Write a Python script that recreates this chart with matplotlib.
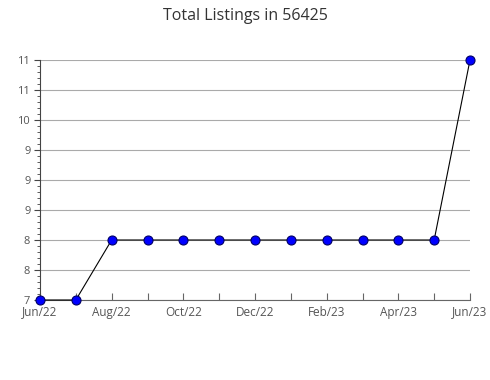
import matplotlib
matplotlib.use("Agg")
import matplotlib.pyplot as plt
from matplotlib.ticker import FixedLocator, FixedFormatter, MultipleLocator

plt.rcParams['font.family'] = ['Open Sans', 'DejaVu Sans']

months = ["Jun/22", "Jul/22", "Aug/22", "Sep/22", "Oct/22", "Nov/22", "Dec/22",
          "Jan/23", "Feb/23", "Mar/23", "Apr/23", "May/23", "Jun/23"]
listings = [7, 7, 8, 8, 8, 8, 8, 8, 8, 8, 8, 8, 11]
y_ticks = [7, 7.5, 8, 8.5, 9, 9.5, 10, 10.5, 11]
y_labels = ["7", "8", "8", "9", "9", "9", "10", "11", "11"]
title = "Total Listings in 56425"

fig = plt.figure(figsize=(4.9, 3.8), dpi=100)
ax = fig.add_axes([40/490, 1-300/380, 430/490, 240/380])

x = list(range(len(months)))
ax.plot(x, listings, color='black', lw=0.8, zorder=3, clip_on=False)
ax.plot(x, listings, 'o', ms=6.5, mfc='#0000ff', mec='#000066', mew=0.8, zorder=4, clip_on=False)

ax.set_xlim(0, len(months)-1)
ax.set_ylim(7, 11)

ax.yaxis.set_major_locator(FixedLocator(y_ticks))
ax.yaxis.set_major_formatter(FixedFormatter(y_labels))
ax.yaxis.set_minor_locator(MultipleLocator(0.1))
ax.xaxis.set_major_locator(FixedLocator(x))
ax.xaxis.set_major_formatter(FixedFormatter([m if i % 2 == 0 else "" for i, m in enumerate(months)]))

ax.grid(axis='y', color='#aaaaaa', lw=0.8, zorder=0)
for s in ['top', 'right']:
    ax.spines[s].set_visible(False)
ax.spines['left'].set_color('#444444')
ax.spines['bottom'].set_color('#666666')

ax.tick_params(axis='y', which='major', length=4, color='#444444', labelsize=8, labelcolor='#555555', pad=3)
ax.tick_params(axis='y', which='minor', length=2, color='#444444')
ax.tick_params(axis='x', which='major', direction='in', length=5, color='#666666', labelsize=8.5, labelcolor='#555555', pad=4)

fig.text(0.5, 1-16/380, title, ha='center', va='center', fontsize=11.5, color='#333333')

fig.savefig('out.png', dpi=100)
